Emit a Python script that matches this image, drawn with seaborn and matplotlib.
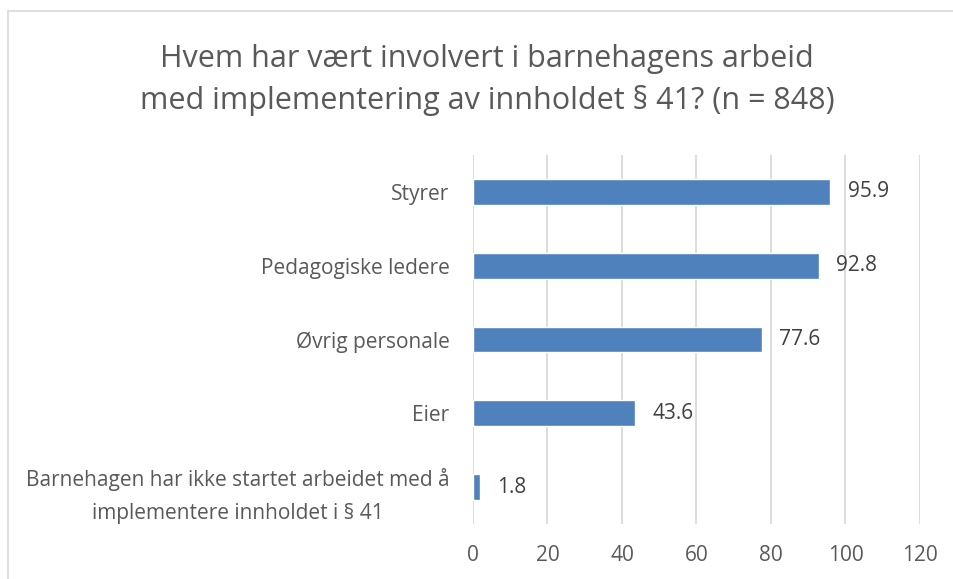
import matplotlib
matplotlib.use("Agg")
import matplotlib.pyplot as plt
from matplotlib.patches import Rectangle
import seaborn as sns
import pandas as pd

categories = [
    "Styrer",
    "Pedagogiske ledere",
    "Øvrig personale",
    "Eier",
    "Barnehagen har ikke startet arbeidet med å\nimplementere innholdet i § 41",
]
values = [95.9, 92.8, 77.6, 43.6, 1.8]
x_ticks = [0, 20, 40, 60, 80, 100, 120]
title = "Hvem har vært involvert i barnehagens arbeid\nmed implementering av innholdet § 41? (n = 848)"

sns.set_theme(style="white")
plt.rcParams["font.family"] = ["Open Sans", "DejaVu Sans"]

text_grey = "#595959"
grid_grey = "#D9D9D9"
bar_blue = "#4F81BD"

df = pd.DataFrame({"kategori": categories, "andel": values})

fig = plt.figure(figsize=(9.54, 5.79), dpi=100)
fig.patch.set_facecolor("white")

# chart frame (left and top edges visible)
fig.patches.append(Rectangle((8 / 954, -0.1), 1.2, 1 - 11 / 579 + 0.1,
                             transform=fig.transFigure, fill=False,
                             edgecolor=grid_grey, linewidth=1.2))

ax = fig.add_axes([473 / 954, 1 - 524 / 579, (920 - 473) / 954, (524 - 155) / 579])
sns.barplot(data=df, x="andel", y="kategori", orient="h", color=bar_blue,
            saturation=1, width=0.35, ax=ax, zorder=3)

ax.set_xlim(0, 120)
ax.set_xticks(x_ticks)
ax.set_xticklabels([str(t) for t in x_ticks])
ax.set_xlabel("")
ax.set_ylabel("")
for s in ax.spines.values():
    s.set_visible(False)
ax.grid(axis="x", color=grid_grey, linewidth=1.3, zorder=0)
ax.grid(axis="y", visible=False)
ax.tick_params(axis="x", length=0, pad=15, labelsize=15, labelcolor=text_grey)
ax.tick_params(axis="y", length=0, pad=17, labelsize=15, labelcolor=text_grey)
for lbl in ax.get_yticklabels():
    lbl.set_multialignment("center")
    lbl.set_linespacing(1.75)

for container in ax.containers:
    ax.bar_label(container, labels=[f"{v:.1f}" for v in values], padding=12.5,
                 fontsize=15, color="#404040")

fig.text(0.5 + 10 / 954, 1 - 80 / 579, title, ha="center", va="center",
         fontsize=22, color=text_grey, linespacing=1.45)

fig.savefig("out.png", dpi=100, facecolor="white")
